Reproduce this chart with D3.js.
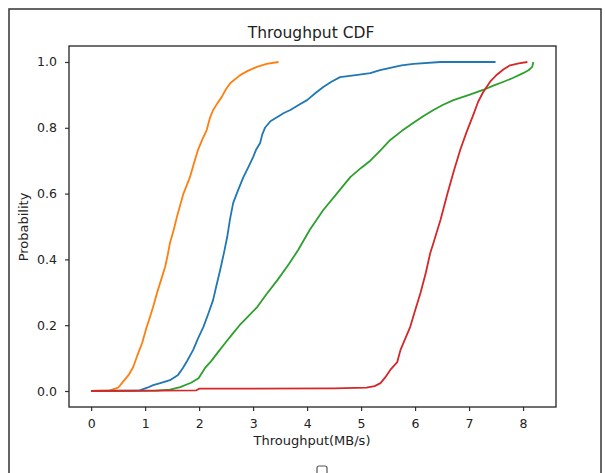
<!DOCTYPE html>
<html>
<head>
<meta charset="utf-8">
<script src="https://cdn.jsdelivr.net/npm/d3@7"></script>
<style>
  body { margin: 0; background: #fff; }
  text { font-family: "DejaVu Sans", sans-serif; fill: #222; }
</style>
</head>
<body>
<svg id="chart" width="605" height="473"></svg>
<script>
// CDF points: [throughput, probability]
const orange = [[0,0],[0.35,0.002],[0.5,0.01],[0.6,0.03],[0.7,0.05],[0.78,0.073],[0.86,0.11],[0.945,0.146],
  [1.02,0.19],[1.09,0.225],[1.16,0.262],[1.22,0.298],[1.3,0.34],[1.37,0.377],[1.42,0.415],[1.46,0.45],
  [1.53,0.49],[1.59,0.53],[1.65,0.565],[1.71,0.6],[1.77,0.625],[1.83,0.65],[1.9,0.69],[1.98,0.733],
  [2.06,0.765],[2.14,0.793],[2.2,0.83],[2.26,0.854],[2.34,0.875],[2.42,0.894],[2.5,0.918],[2.58,0.936],
  [2.76,0.96],[2.9,0.973],[3.07,0.985],[3.25,0.994],[3.47,1.0]];
const blue = [[0,0],[0.9,0.002],[1.04,0.01],[1.15,0.018],[1.28,0.024],[1.46,0.033],[1.61,0.049],[1.7,0.07],
  [1.78,0.092],[1.89,0.125],[1.98,0.16],[2.08,0.195],[2.17,0.235],[2.26,0.277],[2.32,0.32],[2.39,0.368],
  [2.46,0.42],[2.52,0.468],[2.57,0.52],[2.63,0.571],[2.72,0.61],[2.82,0.65],[2.91,0.68],[3.0,0.711],
  [3.06,0.735],[3.13,0.754],[3.17,0.78],[3.22,0.8],[3.32,0.82],[3.45,0.833],[3.57,0.845],[3.69,0.854],
  [3.85,0.87],[4.0,0.884],[4.15,0.905],[4.3,0.924],[4.45,0.94],[4.61,0.954],[4.9,0.96],[5.17,0.966],
  [5.35,0.975],[5.54,0.982],[5.75,0.99],[5.97,0.994],[6.47,1.0],[7.49,1.0]];
const green = [[0,0],[1.2,0.001],[1.46,0.004],[1.65,0.012],[1.85,0.025],[1.99,0.039],[2.11,0.07],[2.22,0.09],
  [2.34,0.116],[2.48,0.145],[2.63,0.176],[2.75,0.2],[2.9,0.225],[3.08,0.256],[3.25,0.295],[3.45,0.337],
  [3.66,0.385],[3.84,0.43],[4.05,0.49],[4.3,0.55],[4.55,0.6],[4.8,0.65],[5.0,0.678],[5.17,0.7],
  [5.35,0.73],[5.54,0.763],[5.75,0.79],[5.97,0.815],[6.15,0.835],[6.34,0.854],[6.52,0.87],[6.71,0.884],
  [7.0,0.9],[7.26,0.915],[7.45,0.928],[7.64,0.94],[7.82,0.952],[8.0,0.966],[8.1,0.975],[8.17,0.985],[8.19,1.0]];
const red = [[0,0],[1.95,0.002],[2.0,0.007],[4.5,0.008],[5.1,0.01],[5.25,0.015],[5.36,0.024],[5.45,0.042],
  [5.54,0.064],[5.67,0.088],[5.73,0.125],[5.82,0.16],[5.91,0.195],[6.0,0.245],[6.1,0.298],[6.2,0.36],
  [6.28,0.419],[6.34,0.45],[6.47,0.52],[6.6,0.6],[6.72,0.67],[6.84,0.735],[6.96,0.79],[7.08,0.84],
  [7.17,0.88],[7.26,0.908],[7.39,0.94],[7.52,0.962],[7.64,0.978],[7.76,0.99],[7.92,0.996],[8.08,1.0]];

const series = [
  {data: orange, color: "#ff7f0e"},
  {data: blue, color: "#1f77b4"},
  {data: green, color: "#2ca02c"},
  {data: red, color: "#d62728"}
];
const xTicks = [0, 1, 2, 3, 4, 5, 6, 7, 8];
const yTicks = [0, 0.2, 0.4, 0.6, 0.8, 1.0];

const svg = d3.select("#chart");
const plotLeft = 69, plotRight = 556, plotTop = 46, plotBottom = 407;

const x = d3.scaleLinear().domain([-0.41, 8.61]).range([plotLeft, plotRight]);
const y = d3.scaleLinear().domain([-0.0486, 1.0486]).range([plotBottom, plotTop]);

// outer frame of the screenshot
svg.append("rect")
  .attr("x", 9).attr("y", 9)
  .attr("width", 592).attr("height", 480)
  .attr("fill", "none").attr("stroke", "#333").attr("stroke-width", 1.5);

// little cut-off box at the bottom
svg.append("rect")
  .attr("x", 317).attr("y", 466)
  .attr("width", 10).attr("height", 12).attr("rx", 2)
  .attr("fill", "none").attr("stroke", "#555").attr("stroke-width", 1.2);

svg.append("text")
  .attr("x", 311).attr("y", 38)
  .attr("text-anchor", "middle")
  .attr("font-size", 15.5)
  .text("Throughput CDF");

const line = d3.line().x(d => x(d[0])).y(d => y(d[1]));

series.forEach(s => {
  svg.append("path")
    .attr("d", line(s.data))
    .attr("fill", "none")
    .attr("stroke", s.color)
    .attr("stroke-width", 1.8)
    .attr("stroke-linejoin", "round");
});

// axes
const xAxis = d3.axisBottom(x).tickValues(xTicks).tickFormat(d3.format("d")).tickSize(4).tickPadding(8);
const yAxis = d3.axisLeft(y).tickValues(yTicks).tickFormat(d3.format(".1f")).tickSize(4).tickPadding(8);

const gx = svg.append("g").attr("transform", `translate(0,${plotBottom})`).call(xAxis);
const gy = svg.append("g").attr("transform", `translate(${plotLeft},0)`).call(yAxis);
[gx, gy].forEach(g => {
  g.select(".domain").remove();
  g.selectAll("line").attr("stroke", "#333").attr("stroke-width", 1.2);
  g.selectAll("text").attr("font-size", 12.5).attr("fill", "#222").style("font-family", "DejaVu Sans");
});

// spines
svg.append("rect")
  .attr("x", plotLeft).attr("y", plotTop)
  .attr("width", plotRight - plotLeft).attr("height", plotBottom - plotTop)
  .attr("fill", "none").attr("stroke", "#222").attr("stroke-width", 1.3);

svg.append("text")
  .attr("x", 312).attr("y", 445)
  .attr("text-anchor", "middle")
  .attr("font-size", 13)
  .text("Throughput(MB/s)");

svg.append("text")
  .attr("transform", `translate(28,227) rotate(-90)`)
  .attr("text-anchor", "middle")
  .attr("font-size", 13)
  .text("Probability");
</script>
</body>
</html>
